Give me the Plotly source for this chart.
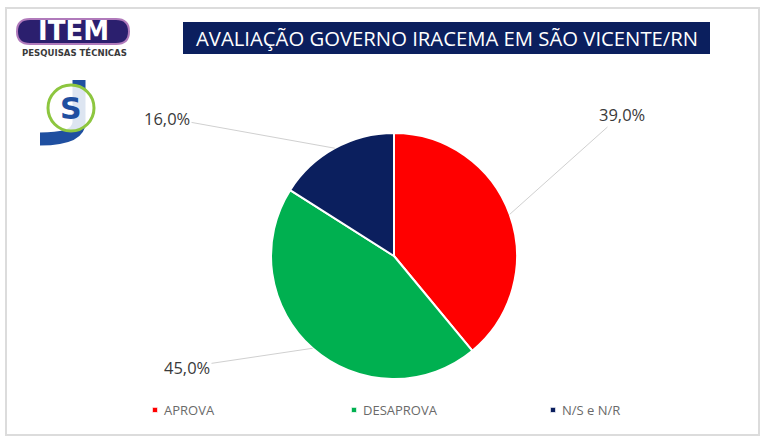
import math
import plotly.graph_objects as go

# ---- data ----
categories = ["APROVA", "DESAPROVA", "N/S e N/R"]
values = [39.0, 45.0, 16.0]
colors = ["#FF0000", "#00B050", "#0B1F5E"]
title_text = "AVALIAÇÃO GOVERNO IRACEMA EM SÃO VICENTE/RN"

W, H = 765, 441
CX, CY, R = 394, 256, 123  # pie centre / radius in px (layout)

def px(x):
    return x / W

def py(y):
    return 1 - y / H

fig = go.Figure()
fig.add_trace(go.Pie(
    labels=categories, values=values, sort=False, direction="clockwise", rotation=0,
    marker=dict(colors=colors, line=dict(color="white", width=2)),
    textinfo="none", hoverinfo="label+percent",
    domain=dict(x=[px(CX - R), px(CX + R)], y=[py(CY + R), py(CY - R)]),
))

# outside labels with leader lines (label offsets are layout)
label_pos = [(622, 114), (187, 367), (167, 118)]
total = sum(values)
cum = 0
annotations = []
for v, (lx, ly) in zip(values, label_pos):
    mid = (cum + v / 2) / total * 2 * math.pi
    cum += v
    ex = CX + R * math.sin(mid)
    ey = CY - R * math.cos(mid)
    annotations.append(dict(
        x=px(ex), y=py(ey), xref="paper", yref="paper",
        ax=lx - ex, ay=ly - ey, axref="pixel", ayref="pixel",
        text=f"{v:.1f}%".replace(".", ","), showarrow=True, arrowhead=0,
        arrowwidth=1, arrowcolor="#d0d0d0", standoff=0,
        font=dict(family="Open Sans", size=16.5, color="#3a3a3a"),
    ))

def label(x, y, text, font):
    annotations.append(dict(x=px(x), y=py(y), xref="paper", yref="paper", showarrow=False,
                            xanchor="center", yanchor="middle", text=text, font=font))

# title text
label(447, 38, title_text, dict(family="Open Sans", size=20.3, color="white"))
# ITEM logo text
label(73, 31, "<b>ITEM</b>", dict(family="DejaVu Sans", size=26, color="white"))
label(74, 53, "<b>PESQUISAS TÉCNICAS</b>", dict(family="DejaVu Sans Condensed", size=9.5, color="#3a3a3a"))
label(71, 108, "<b>S</b>", dict(family="DejaVu Sans", size=30, color="#1F4FA0"))

shapes = [
    # outer frame
    dict(type="rect", xref="paper", yref="paper", x0=px(6), x1=px(759), y0=py(435), y1=py(8),
         line=dict(color="#dcdcdc", width=2), layer="below"),
    # title box
    dict(type="rect", xref="paper", yref="paper", x0=px(183), x1=px(710), y0=py(54), y1=py(22),
         fillcolor="#0B1F5E", line=dict(width=0), layer="below"),
    # ITEM logo pill
    dict(type="path", xref="paper", yref="paper",
         path=f"M {px(30)} {py(19)} L {px(116)} {py(19)} Q {px(129)} {py(19)} {px(129)} {py(31.5)} "
              f"Q {px(129)} {py(44)} {px(116)} {py(44)} L {px(30)} {py(44)} "
              f"Q {px(17)} {py(44)} {px(17)} {py(31.5)} Q {px(17)} {py(19)} {px(30)} {py(19)} Z",
         fillcolor="#2B1F6E", line=dict(color="#B07ABB", width=2), layer="below"),
    # S logo: blue J
    dict(type="path", xref="paper", yref="paper",
         path=f"M {px(79)} {py(80)} L {px(79)} {py(122)} Q {px(79)} {py(139)} {px(40)} {py(139)}",
         line=dict(color="#1F4FA0", width=13)),
    # green ring
    dict(type="circle", xref="paper", yref="paper", x0=px(48), x1=px(94), y0=py(131), y1=py(85),
         fillcolor="rgba(255,255,255,0.85)", line=dict(color="#8DC63F", width=3)),
]

fig.update_layout(
    width=W, height=H, margin=dict(l=0, r=0, t=0, b=0, autoexpand=False),
    paper_bgcolor="white", plot_bgcolor="white",
    showlegend=True,
    legend=dict(orientation="h", x=px(124), y=py(410), yanchor="middle", xanchor="left",
                entrywidth=154, entrywidthmode="pixels",
                font=dict(family="Open Sans", size=13, color="#6a6a6a")),
    annotations=annotations, shapes=shapes,
)

post = """
document.body.style.margin='0';
document.querySelectorAll('.legend .legendpoints path').forEach(function(p){
  p.setAttribute('transform','translate(31,0) scale(0.45)');
});
"""
fig.write_html("out.html", config={"displayModeBar": False}, post_script=post)
